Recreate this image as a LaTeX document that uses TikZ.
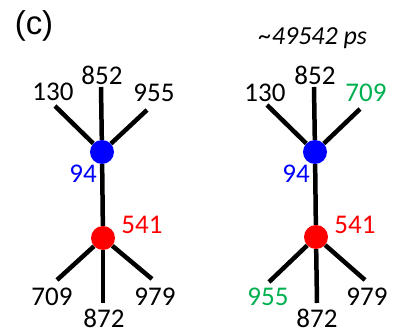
\documentclass[tikz,border=0pt]{standalone}
\usepackage{fontspec}
\setmainfont{Carlito}
\newfontfamily\arialfont{Liberation Sans}
\definecolor{tgreen}{RGB}{0,176,80}
\definecolor{tblue}{RGB}{0,0,255}
\definecolor{tred}{RGB}{255,0,0}
\tikzset{
  lbl/.style={inner sep=0pt, anchor=center, font=\fontsize{27}{27}\selectfont},
  branch/.style={line width=4.5pt, black},
  bdot/.style={circle, fill=tblue, minimum size=24pt, inner sep=0pt},
  rdot/.style={circle, fill=tred, minimum size=24pt, inner sep=0pt},
}
\begin{document}
\begin{tikzpicture}[x=1pt,y=-1pt]
\useasboundingbox (0,0) rectangle (394,336);
\node[inner sep=0pt, font=\arialfont\fontsize{33}{33}\selectfont] (c) at (34,26) {(c)};
\node[inner sep=0pt, anchor=base, font=\itshape\fontsize{26}{26}\selectfont] (t) at (313,45) {\char`~49542 ps};
% left tree
\node[bdot] (bd1) at (102,152) {};
\node[rdot] (rd1) at (103,238) {};
\coordinate (a1) at (55,106);
\coordinate (a2) at (101,87);
\coordinate (a3) at (147,110);
\coordinate (b1) at (57,280);
\coordinate (b2) at (103,303);
\coordinate (b3) at (152,279);
\draw[branch] (bd1) -- (a1);
\draw[branch] (bd1) -- (a2);
\draw[branch] (bd1) -- (a3);
\draw[branch] (bd1) -- (rd1);
\draw[branch] (rd1) -- (b1);
\draw[branch] (rd1) -- (b2);
\draw[branch] (rd1) -- (b3);
\node[lbl] (l130) at (53,92) {130};
\node[lbl] (l852) at (102,75) {852};
\node[lbl] (l955) at (154,93) {955};
\node[lbl, text=tblue] (l94) at (83,174) {94};
\node[lbl, text=tred] (l541) at (142,225) {541};
\node[lbl] (l709) at (52,297) {709};
\node[lbl] (l872) at (104,318) {872};
\node[lbl] (l979) at (155,297) {979};
% right tree
\node[bdot] (bd2) at (315,152) {};
\node[rdot] (rd2) at (316,237) {};
\coordinate (c1) at (267,105);
\coordinate (c2) at (314,87);
\coordinate (c3) at (360,109);
\coordinate (d1) at (269,282);
\coordinate (d2) at (317,303);
\coordinate (d3) at (365,280);
\draw[branch] (bd2) -- (c1);
\draw[branch] (bd2) -- (c2);
\draw[branch] (bd2) -- (c3);
\draw[branch] (bd2) -- (rd2);
\draw[branch] (rd2) -- (d1);
\draw[branch] (rd2) -- (d2);
\draw[branch] (rd2) -- (d3);
\node[lbl] (m130) at (265,93) {130};
\node[lbl] (m852) at (315,75) {852};
\node[lbl, text=tgreen] (m709) at (366,93) {709};
\node[lbl, text=tblue] (m94) at (296,174) {94};
\node[lbl, text=tred] (m541) at (355,225) {541};
\node[lbl, text=tgreen] (m955) at (268,297) {955};
\node[lbl] (m872) at (317,318) {872};
\node[lbl] (m979) at (367,297) {979};
\end{tikzpicture}
\end{document}
